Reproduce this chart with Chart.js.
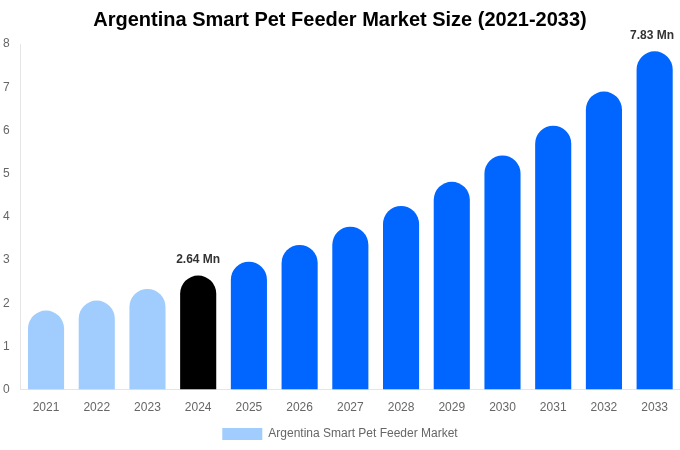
<!DOCTYPE html>
<html>
<head>
<meta charset="utf-8">
<script src="https://cdn.jsdelivr.net/npm/chart.js@4/dist/chart.umd.min.js"></script>
<style>
  html, body { margin: 0; padding: 0; background: #fff; }
  #wrap { width: 680px; height: 450px; }
</style>
</head>
<body>
<div id="wrap"><canvas id="chart"></canvas></div>
<script>
const years = ["2021", "2022", "2023", "2024", "2025", "2026", "2027", "2028", "2029", "2030", "2031", "2032", "2033"];
const marketSize = [1.83, 2.06, 2.33, 2.64, 2.96, 3.35, 3.77, 4.25, 4.81, 5.42, 6.11, 6.9, 7.83];
const barColors = ["#a0cdfd", "#a0cdfd", "#a0cdfd", "#000000", "#0066ff", "#0066ff", "#0066ff", "#0066ff", "#0066ff", "#0066ff", "#0066ff", "#0066ff", "#0066ff"];
const labelled = ["2024", "2033"];
const yTicks = [0, 1, 2, 3, 4, 5, 6, 7, 8];

// value labels above the current year and the last forecast year
const valueLabels = {
  id: "valueLabels",
  afterDatasetsDraw(chart) {
    const { ctx } = chart;
    const meta = chart.getDatasetMeta(0);
    ctx.save();
    ctx.font = "bold 12px 'Liberation Sans', Arial, sans-serif";
    ctx.fillStyle = "#333";
    ctx.textAlign = "center";
    ctx.textBaseline = "bottom";
    years.forEach((y, i) => {
      if (!labelled.includes(y)) return;
      const bar = meta.data[i];
      let x = bar.x;
      const text = marketSize[i].toFixed(2) + " Mn";
      const w = ctx.measureText(text).width;
      if (x + w / 2 > chart.width - 6) x = chart.width - 6 - w / 2;
      ctx.fillText(text, x, bar.y - 10);
    });
    ctx.restore();
  },
};

const ctx = document.getElementById("chart").getContext("2d");
new Chart(ctx, {
  type: "bar",
  data: {
    labels: years,
    datasets: [
      {
        label: "Argentina Smart Pet Feeder Market",
        data: marketSize,
        backgroundColor: barColors,
        borderRadius: { topLeft: 40, topRight: 40, bottomLeft: 0, bottomRight: 0 },
        borderSkipped: "bottom",
        categoryPercentage: 0.8,
        barPercentage: 0.89,
      },
    ],
  },
  options: {
    responsive: true,
    maintainAspectRatio: false,
    animation: false,
    layout: { padding: 0 },
    plugins: {
      title: {
        display: true,
        text: "Argentina Smart Pet Feeder Market Size (2021-2033)",
        color: "#000",
        font: { family: "'Liberation Sans', Arial, sans-serif", size: 20, weight: "bold" },
        padding: { top: 8, bottom: 12 },
      },
      legend: {
        position: "bottom",
        labels: {
          color: "#666",
          boxWidth: 40,
          boxHeight: 12,
          font: { family: "'Liberation Sans', Arial, sans-serif", size: 12 },
        },
      },
      tooltip: { enabled: false },
    },
    scales: {
      x: {
        grid: { display: false },
        border: { color: "#e5e5e5" },
        ticks: { color: "#666", font: { family: "'Liberation Sans', Arial, sans-serif", size: 12 } },
      },
      y: {
        min: 0,
        max: yTicks[yTicks.length - 1],
        grid: { display: false },
        border: { color: "#e5e5e5" },
        afterBuildTicks(axis) {
          axis.ticks = yTicks.map(v => ({ value: v }));
        },
        ticks: { color: "#666", padding: 3, font: { family: "'Liberation Sans', Arial, sans-serif", size: 12 } },
      },
    },
  },
  plugins: [valueLabels],
});
</script>
</body>
</html>
